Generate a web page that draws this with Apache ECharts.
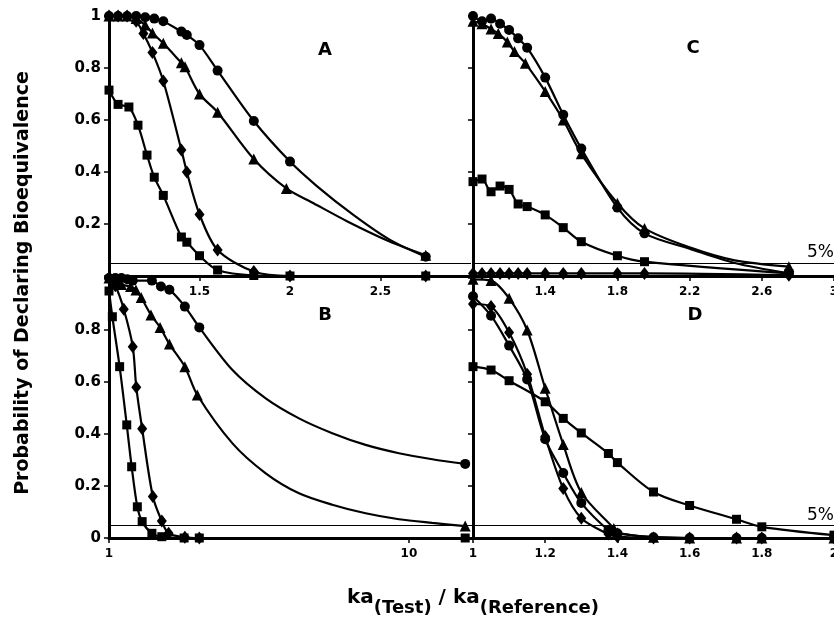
<!DOCTYPE html>
<html><head><meta charset="utf-8">
<script src="https://cdn.jsdelivr.net/npm/echarts@6/dist/echarts.min.js"></script>
<style>html,body{margin:0;padding:0;background:#fff}#c{width:834px;height:624px}</style>
</head><body><div id="c"></div>
<script>
// ---- Panel A (linear x 1..3) ----
const aCircle   = [[1.0,1.0],[1.05,1.0],[1.1,1.0],[1.15,1.0],[1.2,0.995],[1.25,0.99],[1.3,0.98],[1.4,0.94],[1.43,0.927],[1.5,0.888],[1.6,0.79],[1.8,0.596],[2.0,0.44],[2.75,0.074]];
const aCircleCurve = [[2.15,0.345],[2.35,0.235],[2.55,0.14]];
const aTriangle = [[1.0,1.0],[1.05,1.0],[1.1,1.0],[1.15,0.99],[1.2,0.965],[1.24,0.935],[1.3,0.895],[1.4,0.82],[1.42,0.805],[1.5,0.70],[1.6,0.63],[1.8,0.45],[1.98,0.337],[2.75,0.08]];
const aTriangleCurve = [[2.13,0.28],[2.32,0.209],[2.55,0.133]];
const aDiamond  = [[1.0,1.0],[1.05,1.0],[1.1,1.0],[1.15,0.98],[1.19,0.933],[1.24,0.86],[1.3,0.75],[1.4,0.485],[1.43,0.40],[1.5,0.237],[1.6,0.10],[1.8,0.017],[2.0,0.0],[2.75,0.0]];
const aSquare   = [[1.0,0.715],[1.05,0.66],[1.11,0.65],[1.16,0.58],[1.21,0.465],[1.25,0.38],[1.3,0.31],[1.4,0.15],[1.43,0.13],[1.5,0.078],[1.6,0.023],[1.8,0.002],[2.0,0.0],[2.75,0.0]];
// ---- Panel C (linear x 1..3) ----
const cCircle   = [[1.0,1.0],[1.05,0.98],[1.1,0.99],[1.15,0.97],[1.2,0.946],[1.25,0.914],[1.3,0.878],[1.4,0.763],[1.5,0.62],[1.6,0.49],[1.8,0.263],[1.95,0.164],[2.75,0.01]];
const cCircleCurve = [[2.2,0.105],[2.45,0.05]];
const cTriangle = [[1.0,0.98],[1.05,0.97],[1.1,0.95],[1.14,0.933],[1.19,0.90],[1.23,0.863],[1.29,0.818],[1.4,0.71],[1.5,0.60],[1.6,0.47],[1.8,0.28],[1.95,0.183],[2.75,0.036]];
const cTriangleCurve = [[2.2,0.11],[2.45,0.06]];
const cDiamond  = [[1.0,0.01],[1.05,0.01],[1.1,0.01],[1.15,0.01],[1.2,0.01],[1.25,0.01],[1.3,0.01],[1.4,0.01],[1.5,0.01],[1.6,0.01],[1.8,0.01],[1.95,0.01],[2.75,0.003]];
const cSquare   = [[1.0,0.363],[1.05,0.373],[1.1,0.324],[1.15,0.346],[1.2,0.333],[1.25,0.277],[1.3,0.267],[1.4,0.235],[1.5,0.186],[1.6,0.132],[1.8,0.078],[1.95,0.055],[2.75,0.01]];
// ---- Panel B (log x 1..16) ----
const bCircle   = [[1.0,1.0],[1.05,1.0],[1.1,1.0],[1.15,0.995],[1.2,0.99],[1.39,0.99],[1.49,0.967],[1.59,0.955],[1.79,0.89],[2.0,0.81],[15.4,0.285]];
const bCircleCurve = [[2.58,0.646],[3.33,0.537],[4.3,0.46],[5.55,0.403],[7.17,0.358],[9.26,0.326],[11.96,0.303]];
const bTriangle = [[1.0,1.0],[1.05,0.99],[1.1,0.975],[1.18,0.967],[1.23,0.954],[1.28,0.925],[1.38,0.858],[1.48,0.81],[1.59,0.746],[1.79,0.659],[1.97,0.55],[15.4,0.046]];
const bTriangleCurve = [[2.58,0.364],[3.33,0.249],[4.3,0.172],[5.55,0.128],[7.17,0.095],[9.26,0.072],[11.96,0.058]];
const bDiamond  = [[1.0,1.0],[1.05,0.97],[1.12,0.88],[1.2,0.736],[1.233,0.58],[1.29,0.42],[1.4,0.16],[1.5,0.065],[1.58,0.018],[1.79,0.003],[2.0,0.0]];
const bSquare   = [[1.0,0.95],[1.026,0.851],[1.085,0.659],[1.146,0.435],[1.19,0.274],[1.243,0.12],[1.29,0.063],[1.39,0.018],[1.5,0.005],[1.78,0.0],[2.0,0.0],[15.4,0.0]];
// ---- Panel D (linear x 1..2) ----
const dCircle   = [[1.0,0.93],[1.05,0.855],[1.1,0.74],[1.15,0.61],[1.2,0.38],[1.25,0.25],[1.3,0.135],[1.375,0.03],[1.4,0.018],[1.5,0.003],[1.6,0.0],[1.73,0.0],[1.8,0.0],[2.0,0.0]];
const dTriangle = [[1.0,0.995],[1.05,0.99],[1.1,0.922],[1.15,0.80],[1.2,0.576],[1.25,0.36],[1.3,0.175],[1.39,0.037],[1.4,0.02],[1.5,0.003],[1.6,0.0],[1.73,0.0],[1.8,0.0],[2.0,0.0]];
const dDiamond  = [[1.0,0.90],[1.05,0.89],[1.1,0.79],[1.15,0.63],[1.2,0.39],[1.25,0.19],[1.3,0.076],[1.375,0.015],[1.4,0.005],[1.5,0.0],[1.6,0.0],[1.73,0.0],[1.8,0.0],[2.0,0.0]];
const dSquare   = [[1.0,0.659],[1.05,0.646],[1.1,0.605],[1.2,0.524],[1.25,0.46],[1.3,0.404],[1.375,0.325],[1.4,0.29],[1.5,0.177],[1.6,0.125],[1.73,0.072],[1.8,0.043],[2.0,0.011]];
// ---- Reference line / labels ----
const thresholdValue = 0.05;
const thresholdLabel = '5%';
const panelLetters = ['A','C','B','D'];
const yTitle = 'Probability of Declaring Bioequivalence';
const xTitleParts = [['ka','main'],['(Test)','sub'],[' / ka','main'],['(Reference)','sub']];

const FONT = '"DejaVu Sans", "Liberation Sans", Arial, sans-serif';
const SYM = {
  circle:   {symbol:'circle',   size:10},
  triangle: {symbol:'triangle', size:11},
  diamond:  {symbol:'diamond',  size:[10,13]},
  square:   {symbol:'rect',     size:9}
};
function series(marks, curve, kind, gi, withLine) {
  const data = marks.map(p => ({value:p}))
    .concat((curve||[]).map(p => ({value:p, symbol:'none'})))
    .sort((a,b) => a.value[0]-b.value[0]);
  const s = {
    type:'line', xAxisIndex:gi, yAxisIndex:gi, data,
    symbol:SYM[kind].symbol, symbolSize:SYM[kind].size, showSymbol:true,
    smooth:0.3, clip:false, animation:false, silent:true,
    lineStyle:{color:'#000', width:2.2}, itemStyle:{color:'#000'}
  };
  if (withLine) {
    s.markLine = {
      silent:true, symbol:['none','none'], animation:false,
      lineStyle:{color:'#000', width:1, type:'solid'},
      label:{show:false},
      data:[{yAxis:thresholdValue}]
    };
  }
  return s;
}
const axisLineStyle = {show:true, onZero:false, lineStyle:{color:'#000', width:3}};
const tickStyle = {show:true, inside:false, length:5, lineStyle:{color:'#000', width:1.5}};
const yLabelStyle = {color:'#000', fontSize:15, fontWeight:'bold', fontFamily:FONT};
const xLabelStyle = {color:'#000', fontSize:12, fontWeight:'bold', fontFamily:FONT};

const grids = [
  {left:109, top:16, width:362, height:260},
  {left:473, top:16, width:361, height:260},
  {left:109, top:278, width:364, height:260},
  {left:473, top:278, width:361, height:260}
].map(g => Object.assign(g, {containLabel:false, outerBoundsMode:'none', show:false}));

const xAxes = [
  {gridIndex:0, type:'value', min:1, max:3, interval:0.5,
   axisLabel:Object.assign({margin:10, formatter:v => (v===1||v===3)?'':String(v)}, xLabelStyle)},
  {gridIndex:1, type:'value', min:1, max:3, interval:0.4,
   axisLabel:Object.assign({margin:10, formatter:v => (Math.abs(v-1)<1e-9)?'':(+v.toFixed(1)).toString()}, xLabelStyle)},
  {gridIndex:2, type:'log', logBase:10, min:1, max:16.35,
   axisLabel:Object.assign({margin:10, formatter:v => (Math.abs(v-1)<1e-6)?'1':(Math.abs(v-10)<1e-6?'10':'')}, xLabelStyle)},
  {gridIndex:3, type:'value', min:1, max:2, interval:0.2,
   axisLabel:Object.assign({margin:10, formatter:v => (+v.toFixed(1)).toString()}, xLabelStyle)}
].map(a => Object.assign(a, {axisLine:axisLineStyle, axisTick:tickStyle, splitLine:{show:false}}));

const yAxes = [
  {gridIndex:0, axisLabel:Object.assign({margin:8, formatter:v => v===0?'':String(+v.toFixed(1))}, yLabelStyle)},
  {gridIndex:1, axisLabel:{show:false}},
  {gridIndex:2, axisLabel:Object.assign({margin:8, formatter:v => v===1?'':String(+v.toFixed(1))}, yLabelStyle)},
  {gridIndex:3, axisLabel:{show:false}}
].map(a => Object.assign(a, {type:'value', min:0, max:1, interval:0.2,
  axisLine:axisLineStyle, axisTick:tickStyle, splitLine:{show:false}}));

const allSeries = [
  series(aSquare, null, 'square', 0, true),
  series(aCircle, aCircleCurve, 'circle', 0),
  series(aTriangle, aTriangleCurve, 'triangle', 0),
  series(aDiamond, null, 'diamond', 0),
  series(cSquare, null, 'square', 1, true),
  series(cCircle, cCircleCurve, 'circle', 1),
  series(cTriangle, cTriangleCurve, 'triangle', 1),
  series(cDiamond, null, 'diamond', 1),
  series(bSquare, null, 'square', 2, true),
  series(bCircle, bCircleCurve, 'circle', 2),
  series(bTriangle, bTriangleCurve, 'triangle', 2),
  series(bDiamond, null, 'diamond', 2),
  series(dSquare, null, 'square', 3, true),
  series(dCircle, null, 'circle', 3),
  series(dTriangle, null, 'triangle', 3),
  series(dDiamond, null, 'diamond', 3)
];

const letterPos = [[325,50],[693,48],[325,315],[695,315]];
const graphics = panelLetters.map((t,i) => ({
  type:'text', x:letterPos[i][0], y:letterPos[i][1], silent:true,
  style:{text:t, fill:'#000', font:'bold 18px ' + FONT, textAlign:'center', textVerticalAlign:'middle'}
}));
graphics.push({
  type:'text', x:23, y:283, rotation:Math.PI/2, silent:true,
  style:{text:yTitle, fill:'#000', font:'bold 19px ' + FONT, textAlign:'center', textVerticalAlign:'middle'}
});
// "5%" labels next to the threshold lines (C and D panels)
[[807,261],[807,524]].forEach(p => graphics.push({
  type:'text', x:p[0], y:p[1], silent:true,
  style:{text:thresholdLabel, fill:'#000', font:'17px ' + FONT, textAlign:'left', textVerticalAlign:'bottom'}
}));
// x-axis title with subscripts, laid out using measured text widths
(function(){
  const fonts = {main:'bold 20px ' + FONT, sub:'bold 18px ' + FONT};
  const baselines = {main:608, sub:617};
  const ctx = document.createElement('canvas').getContext('2d');
  const widths = xTitleParts.map(([t,k]) => { ctx.font = fonts[k]; return ctx.measureText(t).width; });
  const total = widths.reduce((a,b)=>a+b,0);
  let x = 473 - total/2;
  xTitleParts.forEach(([t,k],i) => {
    graphics.push({type:'text', x:x, y:baselines[k], silent:true,
      style:{text:t, fill:'#000', font:fonts[k], textAlign:'left', textVerticalAlign:'bottom'}});
    x += widths[i];
  });
})();

const chart = echarts.init(document.getElementById('c'), null, {renderer:'canvas'});
chart.setOption({
  animation:false,
  backgroundColor:'#fff',
  grid:grids, xAxis:xAxes, yAxis:yAxes, series:allSeries, graphic:graphics
});
</script></body></html>
